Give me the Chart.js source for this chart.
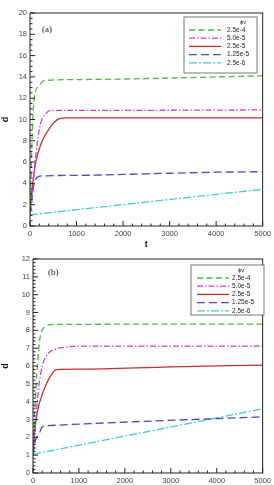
<!DOCTYPE html>
<html>
<head>
<meta charset="utf-8">
<script src="https://cdn.jsdelivr.net/npm/chart.js@4.4.1/dist/chart.umd.min.js"></script>
<style>
  html,body{margin:0;padding:0;background:#fff;}
  body{width:274px;height:485px;position:relative;overflow:hidden;}
  .wrap{position:absolute;left:0;width:274px;}
  #wa{top:0;height:250px;}
  #wb{top:245px;height:240px;}
</style>
</head>
<body>
<div class="wrap" id="wa"><canvas id="ca"></canvas></div>
<div class="wrap" id="wb"><canvas id="cb"></canvas></div>
<script>
// legend labels (phi_v)
const LABELS = ['2.5e-4', '5.0e-5', '2.5e-5', '1.25e-5', '2.5e-6'];

// panel (a)
const A_T0 = [0, 30, 60, 100, 200, 300, 1000, 5000];
const A_D0 = [1, 6, 10, 12.3, 13.2, 13.65, 13.75, 14.1];
const A_T1 = [0, 50, 85, 155, 226, 330, 440, 1000, 5000];
const A_D1 = [1, 3, 4.9, 7.75, 9.6, 10.5, 10.85, 10.85, 10.9];
const A_T2 = [0, 50, 120, 226, 370, 510, 650, 790, 5000];
const A_D2 = [1.1, 3.7, 5.9, 7.6, 8.85, 9.7, 10.1, 10.15, 10.15];
const A_T3 = [0, 30, 60, 100, 150, 250, 1000, 2500, 4000, 5000];
const A_D3 = [1, 2, 3.2, 4.2, 4.55, 4.7, 4.75, 4.9, 5.05, 5.1];
const A_T4 = [0, 5000];
const A_D4 = [1.05, 3.45];

// panel (b)
const B_T0 = [0, 40, 85, 157, 300, 450, 5000];
const B_D0 = [1, 3.5, 5.6, 7.65, 8.25, 8.33, 8.35];
const B_T1 = [0, 50, 100, 150, 200, 300, 500, 700, 1000, 5000];
const B_D1 = [1, 2.5, 4.2, 5.3, 6, 6.6, 6.95, 7.05, 7.12, 7.12];
const B_T2 = [0, 30, 100, 200, 300, 400, 500, 1000, 3000, 5000];
const B_D2 = [1, 2.2, 3.5, 4.4, 5.05, 5.5, 5.8, 5.82, 5.95, 6.05];
const B_T3 = [0, 50, 100, 150, 200, 300, 5000];
const B_D3 = [1, 1.8, 2.1, 2.3, 2.6, 2.65, 3.15];
const B_T4 = [0, 5000];
const B_D4 = [1.05, 3.6];

const STYLES = [
  { color:'#44bb3c', dash:[6,3.5] },
  { color:'#d040d0', dash:[6,2,1.5,2] },
  { color:'#c0302e', dash:[] },
  { color:'#4a48c4', dash:[8,4] },
  { color:'#44ccd0', dash:[8,2,2,2] }
];

const FONT = '"Liberation Sans", Arial, sans-serif';
const pts = (t, d) => t.map((v, i) => ({ x:v, y:d[i] }));

function makeSets(series){
  return series.map((s, i) => ({
    label: LABELS[i],
    data: pts(s[0], s[1]),
    borderColor: STYLES[i].color,
    borderDash: STYLES[i].dash,
    borderWidth: 1.3,
    pointRadius: 0,
    fill: false,
    cubicInterpolationMode: 'monotone'
  }));
}

// frame, inward ticks, boxed legend and panel tag
const framePlugin = {
  id:'frame',
  afterDatasetsDraw(chart, args, o){
    const { ctx, chartArea:a, scales:{ x, y } } = chart;
    ctx.save();
    ctx.strokeStyle = '#222';
    ctx.lineWidth = 1;
    ctx.setLineDash([]);
    ctx.strokeRect(a.left, a.top, a.right - a.left, a.bottom - a.top);
    ctx.beginPath();
    for(let v = x.min; v <= x.max + 1e-6; v += o.xMinor){
      const px = x.getPixelForValue(v);
      const len = Math.abs(v % o.xMajor) < 1e-6 ? 5 : 2.5;
      ctx.moveTo(px, a.bottom); ctx.lineTo(px, a.bottom - len);
    }
    for(let v = y.min; v <= y.max + 1e-6; v += o.yMinor){
      const py = y.getPixelForValue(v);
      const r = v / o.yMajor;
      const len = Math.abs(r - Math.round(r)) < 1e-6 ? 5 : 2.5;
      ctx.moveTo(a.left, py); ctx.lineTo(a.left + len, py);
    }
    ctx.stroke();

    // panel tag
    ctx.fillStyle = '#222';
    ctx.font = '9px "Liberation Serif", serif';
    ctx.textBaseline = 'middle';
    ctx.fillText(o.tag, o.tagX, o.tagY);

    // legend box
    const L = o.legend;
    ctx.fillStyle = '#fff';
    ctx.fillRect(L.x, L.y, L.w, L.h);
    ctx.strokeStyle = '#555';
    ctx.lineWidth = 0.8;
    ctx.strokeRect(L.x, L.y, L.w, L.h);
    ctx.fillStyle = '#222';
    ctx.font = '6px ' + FONT;
    ctx.textAlign = 'left';
    ctx.fillText('ϕv', L.titleX, L.titleY);
    chart.data.datasets.forEach((ds, i) => {
      const yy = L.rowY + i * L.rowH;
      ctx.strokeStyle = ds.borderColor;
      ctx.lineWidth = 1.3;
      ctx.setLineDash(ds.borderDash);
      ctx.beginPath();
      ctx.moveTo(L.lineX0, yy); ctx.lineTo(L.lineX1, yy);
      ctx.stroke();
      ctx.setLineDash([]);
      ctx.fillStyle = '#222';
      ctx.font = '6.5px ' + FONT;
      ctx.fillText(ds.label, L.textX, yy);
    });
    ctx.restore();
  }
};

function makeChart(id, series, opt){
  return new Chart(document.getElementById(id), {
    type:'line',
    data:{ datasets: makeSets(series) },
    plugins:[framePlugin],
    options:{
      responsive:true, maintainAspectRatio:false, animation:false,
      layout:{ padding:{ left:0, right:opt.padRight, top:opt.padTop, bottom:0 } },
      plugins:{ legend:{ display:false }, tooltip:{ enabled:false }, frame:opt.frame },
      scales:{
        x:{
          type:'linear', min:0, max:5000,
          grid:{ display:false, drawTicks:false }, border:{ display:false },
          ticks:{ stepSize:1000, color:'#444', padding:3, maxRotation:0,
                  callback:v => String(v), font:{ size:7.5, family:FONT } },
          title:{ display:opt.showT, text:'t', color:'#111', padding:{ top:0, bottom:0 },
                  font:{ size:9, weight:'bold', family:FONT } },
          afterFit(s){ s.height = opt.xH; }
        },
        y:{
          min:0, max:opt.yMax,
          grid:{ display:false, drawTicks:false }, border:{ display:false },
          ticks:{ stepSize:opt.yStep, color:'#444', padding:3, font:{ size:7.5, family:FONT } },
          title:{ display:true, text:'d', color:'#111', padding:{ top:0, bottom:2 },
                  font:{ size:9, weight:'bold', family:FONT } },
          afterFit(s){ s.width = opt.yW; }
        }
      }
    }
  });
}

makeChart('ca',
  [[A_T0,A_D0],[A_T1,A_D1],[A_T2,A_D2],[A_T3,A_D3],[A_T4,A_D4]],
  { padRight:9, padTop:13, xH:24, yW:30, yMax:20, yStep:2, showT:true,
    frame:{ xMajor:1000, xMinor:200, yMajor:2, yMinor:0.5, tag:'(a)', tagX:42, tagY:30,
      legend:{ x:184, y:17, w:73, h:56, titleX:240, titleY:22,
               rowY:30, rowH:8.2, lineX0:189, lineX1:221, textX:227 } } });

makeChart('cb',
  [[B_T0,B_D0],[B_T1,B_D1],[B_T2,B_D2],[B_T3,B_D3],[B_T4,B_D4]],
  { padRight:7, padTop:14, xH:12, yW:33, yMax:12, yStep:1, showT:false,
    frame:{ xMajor:1000, xMinor:200, yMajor:1, yMinor:0.2, tag:'(b)', tagX:48, tagY:28,
      legend:{ x:191, y:20, w:73, h:50, titleX:238, titleY:25,
               rowY:33, rowH:8.2, lineX0:197, lineX1:229, textX:232 } } });
</script>
</body>
</html>
